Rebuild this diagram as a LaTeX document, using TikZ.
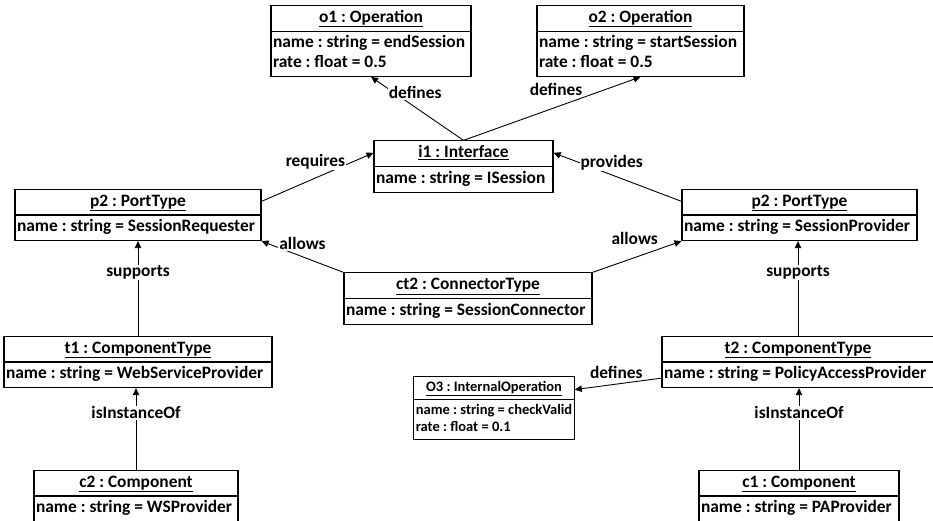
\documentclass[tikz,border=0pt]{standalone}
\usepackage{fontspec}
\setmainfont{Carlito}
\usepackage{tikz}
\usetikzlibrary{shapes,arrows.meta,positioning,calc}
\frenchspacing
\tikzset{
    obj/.style={rectangle split, rectangle split parts=2, rectangle split part align={center,left}, align=left, draw, line width=1.1pt, inner xsep=2pt, inner ysep=2.5pt, font=\bfseries\fontsize{17.4}{19.5}\selectfont},
    smallobj/.style={obj, inner ysep=3pt, font=\bfseries\fontsize{14.5}{16.5}\selectfont},
    line/.style={draw, -{Triangle[length=7pt, width=6.5pt]}, line width=0.9pt},
    lbl/.style={fill=white, inner sep=1pt, font=\bfseries\fontsize{17.4}{19.5}\selectfont}
}

\begin{document}
\begin{tikzpicture}
    \useasboundingbox (0pt,0pt) rectangle (933pt,-520pt);
    \node [obj, minimum width=179pt] (i1) at (463.5pt,-166.5pt) {\strut\underline{i1 : Interface}\nodepart{two}\strut name : string = ISession};
    \node [obj, minimum width=200pt, above of=i1, node distance=125.5pt, xshift=-92.5pt] (o1) {\strut\underline{o1 : Operation}\nodepart{two}\strut name : string = endSession\\rate : float = 0.5\strut};
    \node [obj, minimum width=207pt, above of=i1, node distance=125.5pt, xshift=177pt] (o2) {\strut\underline{o2 : Operation}\nodepart{two}\strut name : string = startSession\\rate : float = 0.5\strut};
    \node [obj, minimum width=246pt, left of=i1, node distance=325.5pt, yshift=-48.5pt] (p2req) {\strut\underline{p2 : PortType}\nodepart{two}\strut name : string = SessionRequester};
    \node [obj, minimum width=235pt, right of=i1, node distance=336pt, yshift=-48.5pt] (p2prov) {\strut\underline{p2 : PortType}\nodepart{two}\strut name : string = SessionProvider};
    \node [obj, minimum width=248pt, below of=i1, node distance=132pt, xshift=4.5pt] (ct2) {\strut\underline{ct2 : ConnectorType}\nodepart{two}\strut name : string = SessionConnector};
    \node [obj, minimum width=268pt, below of=p2req, node distance=147pt] (t1) {\strut\underline{t1 : ComponentType}\nodepart{two}\strut name : string = WebServiceProvider};
    \node [obj, minimum width=272pt, below of=p2prov, node distance=147pt, xshift=-1.5pt] (t2) {\strut\underline{t2 : ComponentType}\nodepart{two}\strut name : string = PolicyAccessProvider};
    \node [obj, minimum width=204pt, below of=t1, node distance=134pt, xshift=-2pt] (c2) {\strut\underline{c2 : Component}\nodepart{two}\strut name : string = WSProvider};
    \node [obj, minimum width=200pt, below of=t2, node distance=134pt, xshift=1pt] (c1) {\strut\underline{c1 : Component}\nodepart{two}\strut name : string = PAProvider};
    \node [smallobj, minimum width=158pt, left of=t2, node distance=304pt, yshift=-46pt] (o3) {\strut\underline{O3 : InternalOperation}\nodepart{two}\strut name : string = checkValid\\rate : float = 0.1\strut};

    \path [line] (i1.north) -- node [lbl, pos=0.75, xshift=21pt] {defines} (o1.south);
    \path [line] (i1.north) -- node [lbl, pos=0.68, anchor=south east] {defines} (o2.south);
    \path [line] ([yshift=-12.5pt]p2req.north east) -- node [lbl, pos=0.76, anchor=east, yshift=3pt] {requires} ([yshift=-12.5pt]i1.north west);
    \path [line] ([yshift=-12.5pt]p2prov.north west) -- node [lbl, pos=0.8, anchor=west] {provides} ([yshift=-12.5pt]i1.north east);
    \path [line] (ct2.north west) -- node [lbl, pos=0.8, anchor=west, yshift=4pt] {allows} (p2req.south east);
    \path [line] (ct2.north east) -- node [lbl, pos=0.75, anchor=south east, yshift=3pt] {allows} (p2prov.south west);
    \path [line] (t1.north) -- node [lbl, pos=0.67] {supports} (p2req.south);
    \path [line] (t2.north) -- node [lbl, pos=0.67] {supports} (t2.north |- p2prov.south);
    \path [line] (c2.north) -- node [lbl, pos=0.7] {isInstanceOf} (c2.north |- t1.south);
    \path [line] (c1.north) -- node [lbl, pos=0.7] {isInstanceOf} (c1.north |- t2.south);
    \path [line] ([yshift=10pt]t2.south west) -- node [lbl, pos=0.2, anchor=south east] {defines} ([yshift=-14pt]o3.north east);
\end{tikzpicture}
\end{document}
